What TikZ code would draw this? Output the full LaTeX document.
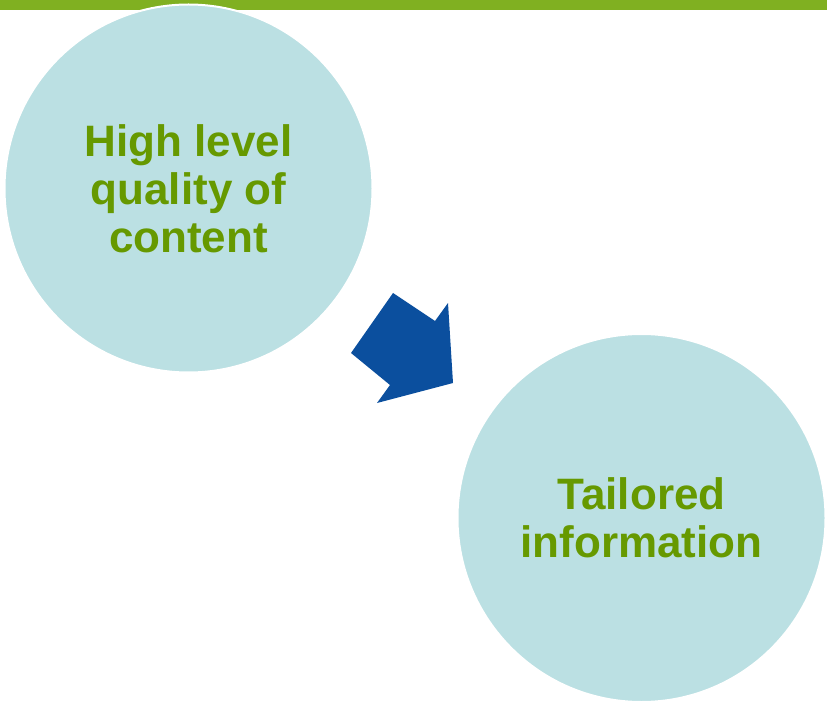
\documentclass[tikz,border=0pt]{standalone}
\usepackage{fontspec}
\setmainfont{Liberation Sans}
\usepackage{tikz}
\usetikzlibrary{shapes.geometric}

\definecolor{barGreen}{HTML}{80B021}
\definecolor{bubbleBlue}{HTML}{BBE0E3}
\definecolor{textGreen}{HTML}{669900}
\definecolor{arrowBlue}{HTML}{0B4F9E}

\begin{document}
\begin{tikzpicture}[
            x=1pt, y=-1pt,
            bubble/.style={circle, fill=bubbleBlue, draw=white, line width=2pt, minimum size=368pt, inner sep=0pt}, % Light blue disc
            every node/.style={font=\fontsize{44}{48}\selectfont\bfseries, text=textGreen, align=center} % Bold green text
            ]

                \useasboundingbox (0,0) rectangle (827,703);

                % Green band along the top edge
                \fill[barGreen] (0,0) rectangle (827,10);

                % The two discs
                \node[bubble] (quality) at (188.5,188.5) {High level\\quality of\\content};
                \node[bubble] (tailored) at (641.5,518) {Tailored\\information};

                % Block arrow from the first disc towards the second
                \fill[arrowBlue] (393,293) -- (435,321) -- (448,303) -- (453,383)
                    -- (377,403) -- (390,385) -- (351,353) -- cycle;

            \end{tikzpicture}
\end{document}
